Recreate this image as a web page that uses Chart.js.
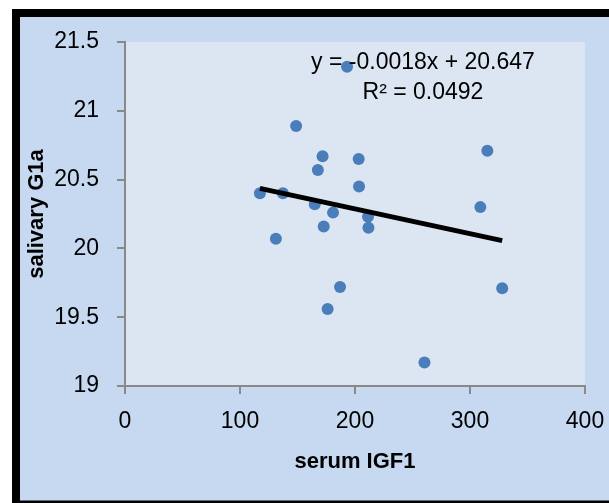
<!DOCTYPE html>
<html><head><meta charset="utf-8">
<script src="https://cdn.jsdelivr.net/npm/chart.js@4.4.0/dist/chart.umd.min.js"></script>
<style>html,body{margin:0;padding:0;background:#fff;}#wrap{width:609px;height:503px;}</style>
</head><body><div id="wrap"><canvas id="c" width="609" height="503"></canvas></div>
<script>
const serumIGF1   = [117.3, 137.3, 148.8, 131.2, 167.7, 171.8, 165.0, 180.9, 172.8, 187.0, 176.2, 193.1, 203.2, 203.5, 211.3, 211.7, 260.4, 315.1, 309.0, 328.0];
const salivaryG1a = [20.40, 20.40, 20.89, 20.07, 20.57, 20.67, 20.32, 20.26, 20.16, 19.72, 19.56, 21.32, 20.65, 20.45, 20.23, 20.15, 19.17, 20.71, 20.30, 19.71];
const trendSlope = -0.0018;
const trendIntercept = 20.647;
const rSquared = 0.0492;
const xTicks = [0, 100, 200, 300, 400];
const yTicks = [19, 19.5, 20, 20.5, 21, 21.5];
const xTitle = 'serum IGF1';
const yTitle = 'salivary G1a';

const FONT = "'Liberation Sans', Arial, sans-serif";
const points = serumIGF1.map((x, i) => ({x: x, y: salivaryG1a[i]}));
const xMin = Math.min(...serumIGF1), xMax = Math.max(...serumIGF1);
const trend = [xMin, xMax].map(x => ({x: x, y: trendSlope * x + trendIntercept}));

const bgPlugin = {
  id: 'bg',
  beforeDraw(chart) {
    const ctx = chart.ctx, a = chart.chartArea;
    ctx.save();
    ctx.fillStyle = '#ffffff';
    ctx.fillRect(0, 0, chart.width, chart.height);
    ctx.fillStyle = '#000000';
    ctx.fillRect(12, 9, chart.width - 12, chart.height - 9);
    ctx.fillStyle = '#c6d9f1';
    ctx.fillRect(20, 17, chart.width - 20, chart.height - 17 - 2.5);
    ctx.fillStyle = '#dce6f2';
    ctx.fillRect(a.left, a.top, a.right - a.left, a.bottom - a.top);
    ctx.restore();
  },
  afterDraw(chart) {
    const ctx = chart.ctx, a = chart.chartArea;
    ctx.save();
    ctx.fillStyle = '#000';
    ctx.font = '23px ' + FONT;
    ctx.textAlign = 'center';
    ctx.textBaseline = 'middle';
    const cx = a.left + 298;
    const slopeTxt = (trendSlope < 0 ? '-' : '') + Math.abs(trendSlope).toFixed(4);
    ctx.fillText('y = ' + slopeTxt + 'x + ' + trendIntercept.toFixed(3), cx, a.top + 21);
    ctx.fillText('R\u00B2 = ' + rSquared.toFixed(4), cx, a.top + 51);
    ctx.restore();
  }
};

new Chart(document.getElementById('c'), {
  type: 'scatter',
  data: {
    datasets: [
      {
        type: 'line',
        data: trend,
        borderColor: '#000000',
        borderWidth: 5,
        pointRadius: 0,
        showLine: true,
        fill: false,
        order: 0
      },
      {
        data: points,
        backgroundColor: '#4a7ebb',
        borderColor: '#4a7ebb',
        borderWidth: 0,
        pointRadius: 6,
        order: 1
      }
    ]
  },
  options: {
    responsive: false,
    devicePixelRatio: 1,
    animation: false,
    layout: {padding: {left: 0, top: 42, right: 24, bottom: 0}},
    plugins: {legend: {display: false}, tooltip: {enabled: false}},
    scales: {
      x: {
        type: 'linear',
        position: 'bottom',
        min: xTicks[0],
        max: xTicks[xTicks.length - 1],
        afterBuildTicks: s => { s.ticks = xTicks.map(v => ({value: v})); },
        afterFit: s => { s.height = 117; s.paddingLeft = 0; s.paddingRight = 0; },
        ticks: {font: {family: FONT, size: 23}, color: '#000', padding: 14, maxRotation: 0, autoSkip: false, callback: v => String(v)},
        grid: {drawOnChartArea: false, drawTicks: true, tickLength: 8, color: '#898989', lineWidth: 2},
        border: {display: true, color: '#898989', width: 2},
        title: {display: true, text: xTitle, color: '#000', font: {family: FONT, size: 22, weight: 'bold'}, padding: {top: 0, bottom: 28}}
      },
      y: {
        type: 'linear',
        position: 'left',
        min: yTicks[0],
        max: yTicks[yTicks.length - 1],
        afterBuildTicks: s => { s.ticks = yTicks.map(v => ({value: v})); },
        afterFit: s => { s.width = 125; s.paddingTop = 0; s.paddingBottom = 0; },
        ticks: {font: {family: FONT, size: 23}, color: '#000', padding: 18, autoSkip: false, callback: v => String(v)},
        grid: {drawOnChartArea: false, drawTicks: true, tickLength: 8, color: '#898989', lineWidth: 2},
        border: {display: true, color: '#898989', width: 2},
        title: {display: true, text: yTitle, color: '#000', font: {family: FONT, size: 22, weight: 'bold'}, padding: {top: 24, bottom: 0}}
      }
    }
  },
  plugins: [bgPlugin]
});
</script>
</body></html>
